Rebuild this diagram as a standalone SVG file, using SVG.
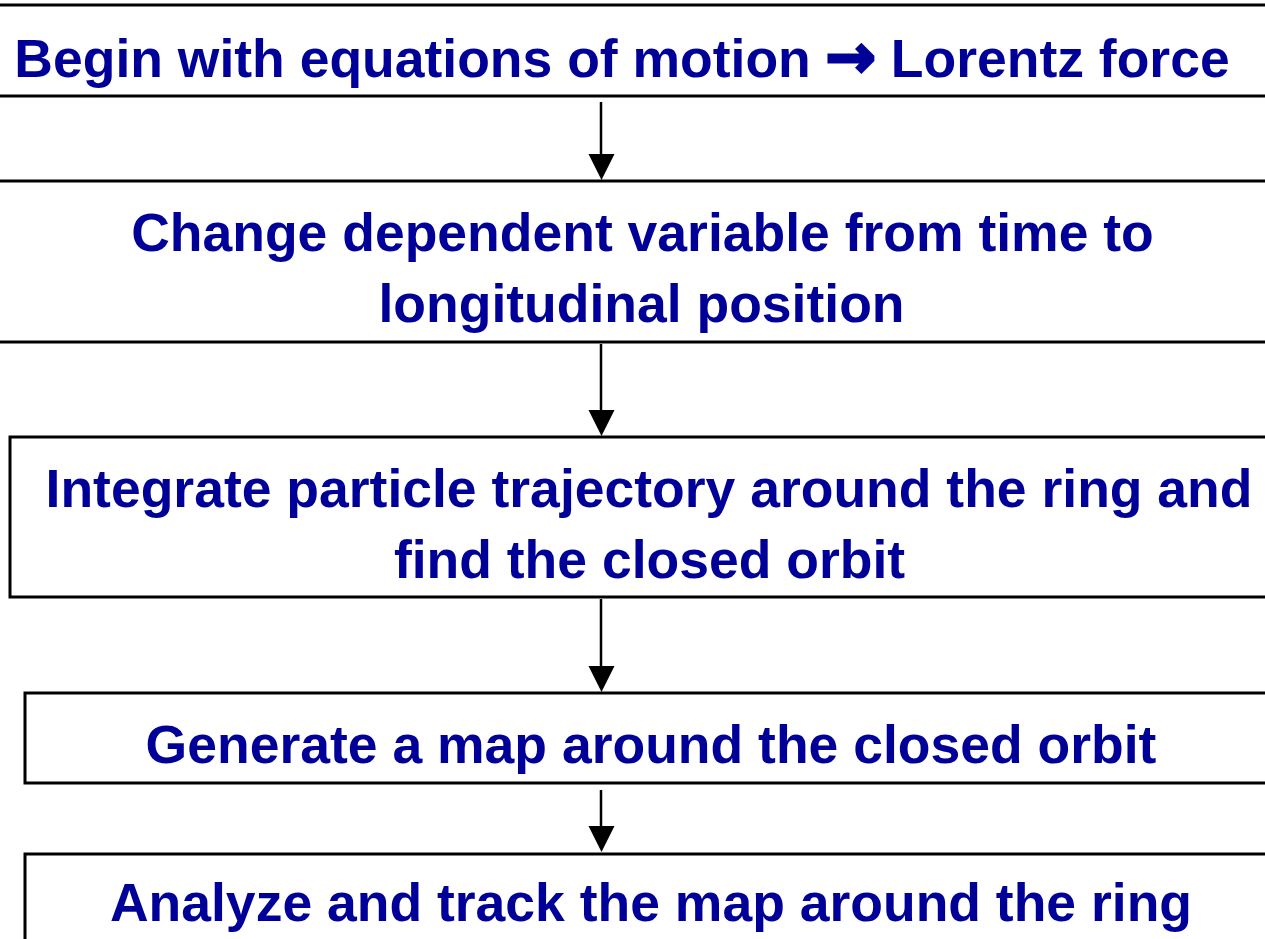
<svg xmlns="http://www.w3.org/2000/svg" width="1265" height="939" viewBox="0 0 1265 939">
<defs>
<style>
.box{fill:#fff;stroke:#000;stroke-width:3}
.t{font-family:"Liberation Sans",Arial,sans-serif;font-weight:bold;font-size:53.5px;fill:#000099;text-anchor:middle}
.ar{font-family:"DejaVu Sans",sans-serif;font-weight:bold;font-size:60px;stroke:#000099;stroke-width:3;stroke-linejoin:miter}
.c{stroke:#000;stroke-width:2.5;fill:none}
.h{fill:#000}
</style>
</defs>
<rect width="1265" height="939" fill="#fff"/>
<g id="node1"><rect class="box" x="-10" y="5" width="1290" height="91"/>
<text class="t" x="622" y="77">Begin with equations of motion <tspan class="ar">→</tspan> Lorentz force</text></g>
<g id="node2"><rect class="box" x="-10" y="181" width="1290" height="161"/>
<text class="t" x="642.5" y="251">Change dependent variable from time to</text>
<text class="t" x="641.5" y="322">longitudinal position</text></g>
<g id="node3"><rect class="box" x="10" y="437" width="1278" height="160"/>
<text class="t" x="649" y="507">Integrate particle trajectory around the ring and</text>
<text class="t" x="649.5" y="578">find the closed orbit</text></g>
<g id="node4"><rect class="box" x="25" y="693" width="1252" height="90"/>
<text class="t" x="651" y="763">Generate a map around the closed orbit</text></g>
<g id="node5"><rect class="box" x="25" y="854" width="1252" height="100"/>
<text class="t" x="651" y="921">Analyze and track the map around the ring</text></g>
<g id="connectors">
<line class="c" x1="601" y1="102" x2="601" y2="160"/><polygon class="h" points="588.5,154 614.5,154 601.5,180"/>
<line class="c" x1="601" y1="344" x2="601" y2="415"/><polygon class="h" points="588.5,410 614.5,410 601.5,436"/>
<line class="c" x1="601" y1="599" x2="601" y2="672"/><polygon class="h" points="588.5,666 614.5,666 601.5,692"/>
<line class="c" x1="601" y1="790" x2="601" y2="832"/><polygon class="h" points="588.5,826 614.5,826 601.5,852"/>
</g>
</svg>
